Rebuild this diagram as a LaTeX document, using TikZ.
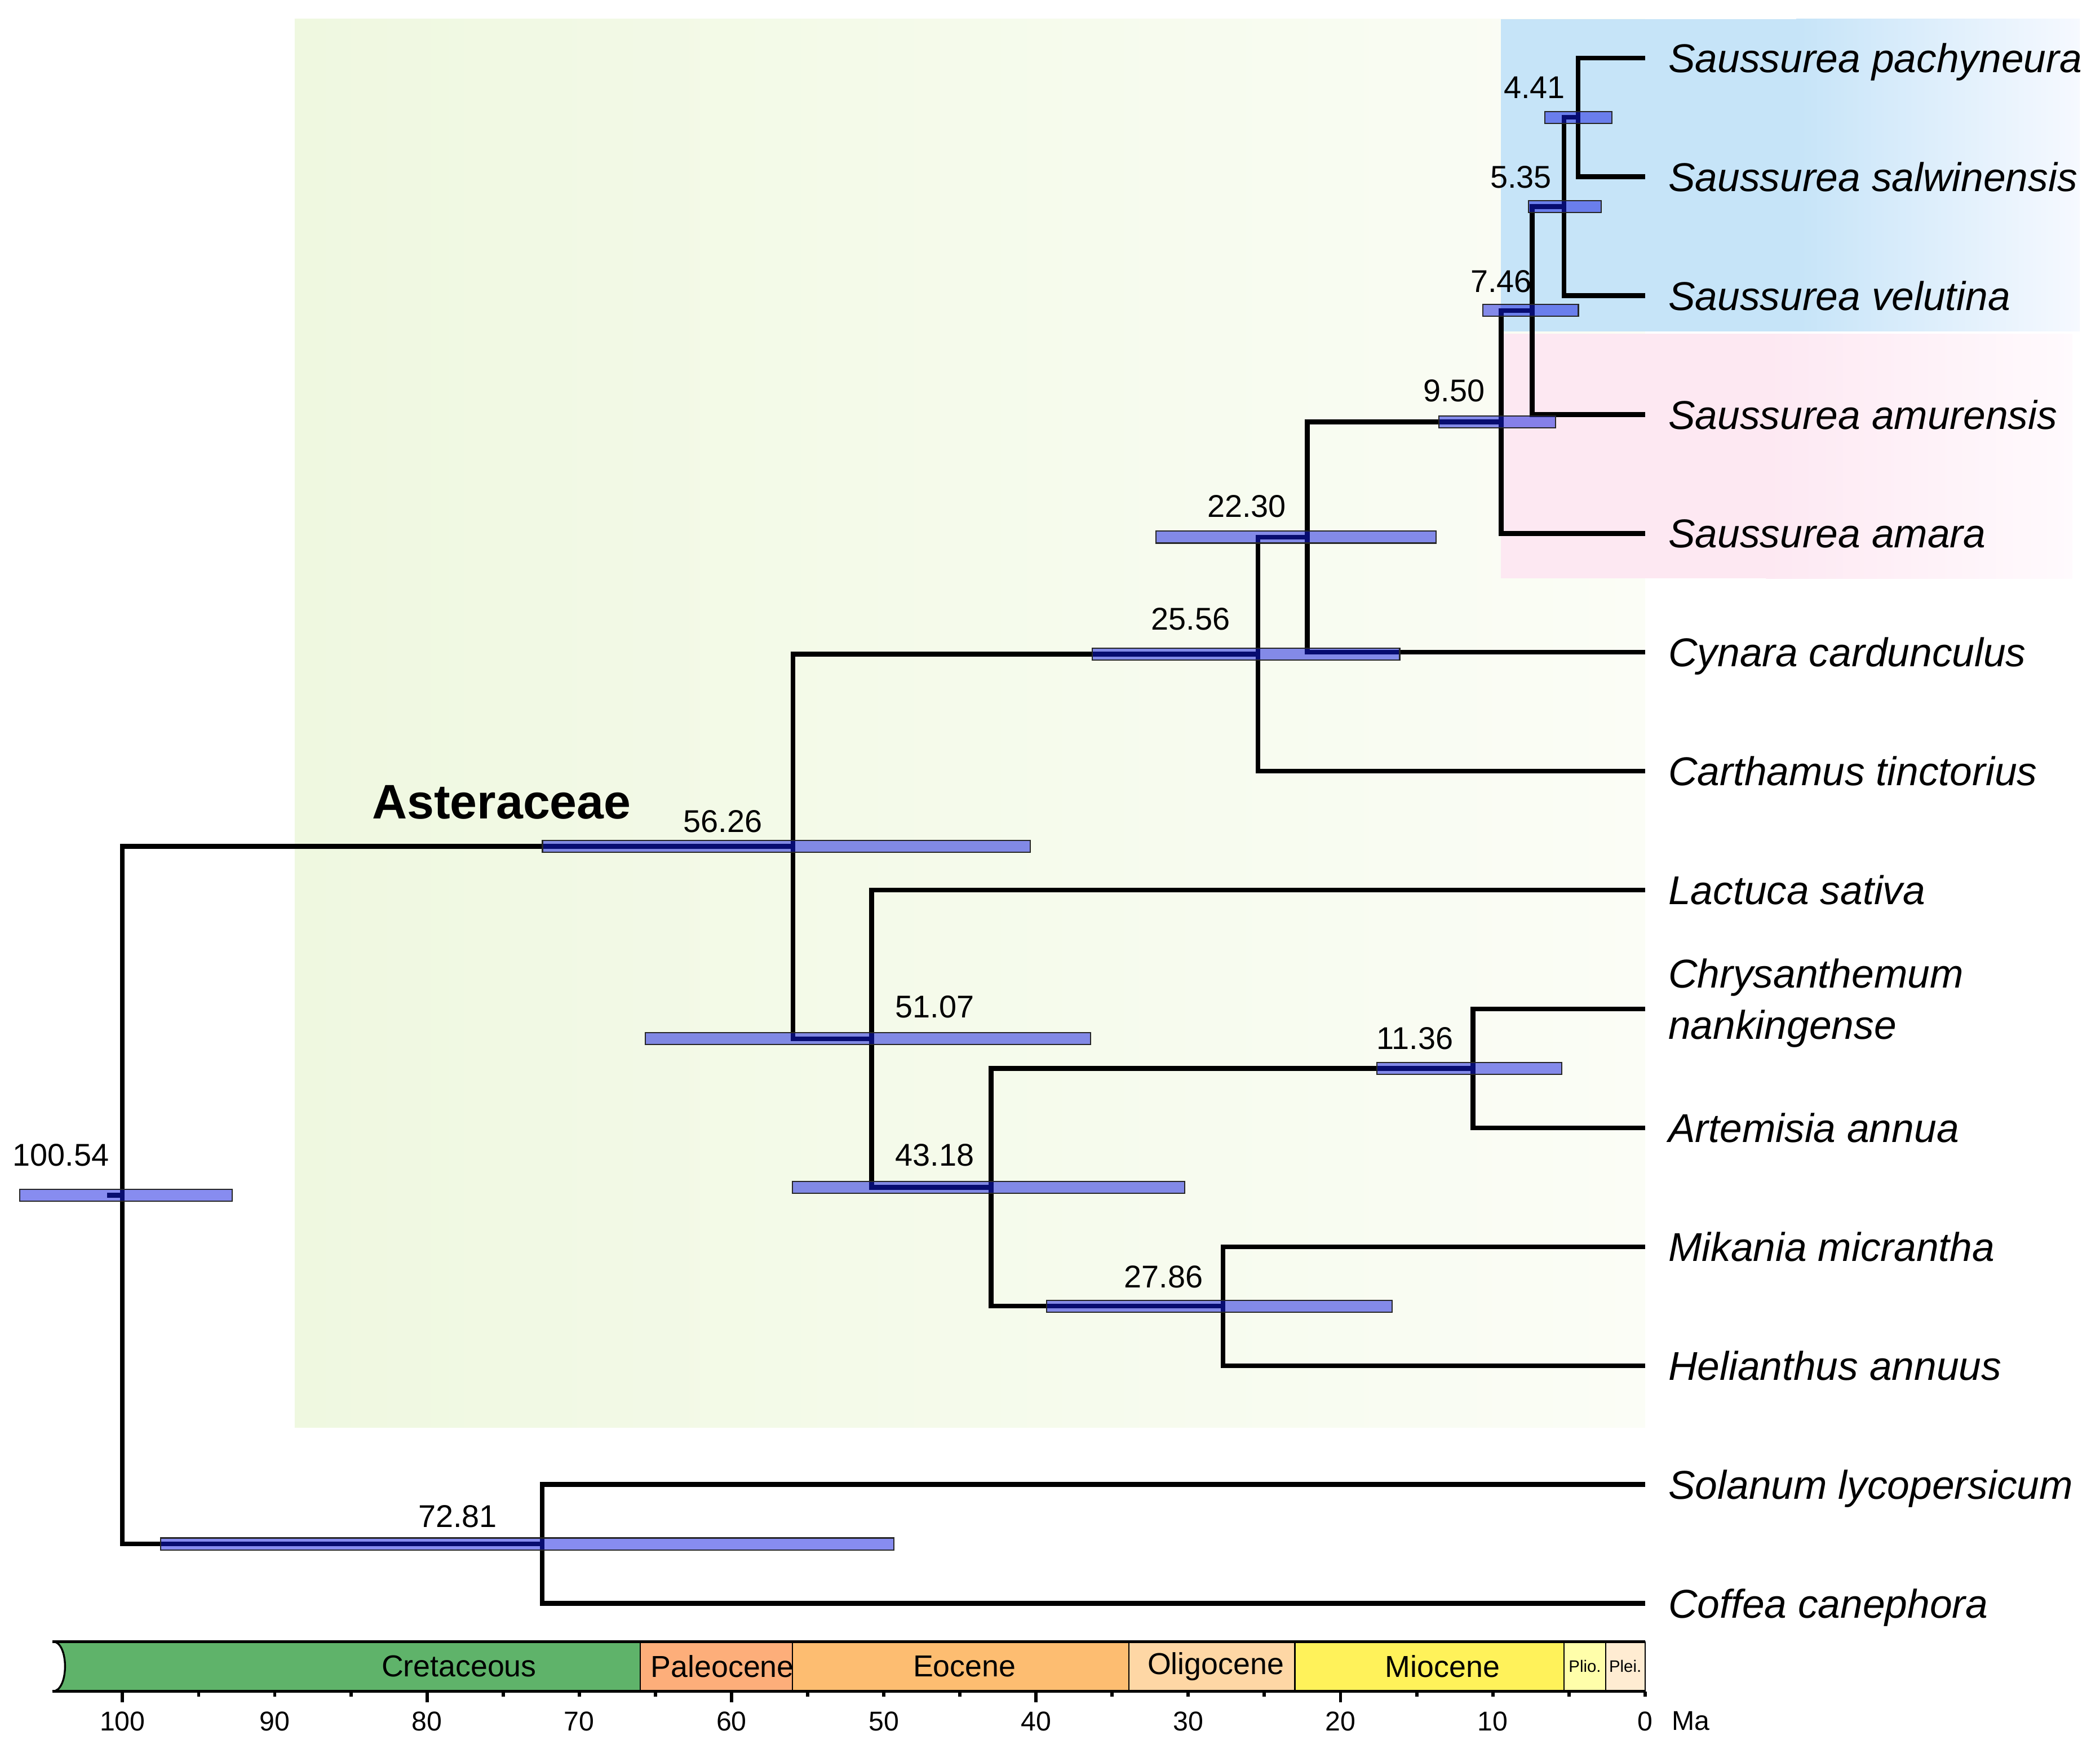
\documentclass[tikz,border=0pt]{standalone}
\usepackage{fontspec}
\setmainfont{Liberation Sans}
\usepackage{xcolor}

\definecolor{hpdblue}{RGB}{15,25,225}
\definecolor{astleft}{RGB}{239,248,224}
\definecolor{astright}{RGB}{251,253,246}
\definecolor{blueleft}{RGB}{198,228,248}
\definecolor{blueright}{RGB}{246,249,255}
\definecolor{pinkleft}{RGB}{253,232,242}
\definecolor{pinkright}{RGB}{255,250,253}
\definecolor{cretaceous}{RGB}{95,179,106}
\definecolor{paleocene}{RGB}{253,174,122}
\definecolor{eocene}{RGB}{253,189,113}
\definecolor{oligocene}{RGB}{254,215,165}
\definecolor{miocene}{RGB}{255,242,90}
\definecolor{pliocene}{RGB}{255,254,170}
\definecolor{pleistocene}{RGB}{255,236,210}

\tikzset{
	branch/.style={line width=2pt},
	hpd/.style={fill=hpdblue, fill opacity=0.5, draw=black!85, line width=0.5pt},
	age/.style={font=\fontsize{13.3}{16}\selectfont, text depth=0pt, inner sep=1pt},
	taxon/.style={anchor=west, inner xsep=0.34cm, font=\fontsize{17}{21.6}\selectfont\itshape},
	tip/.style={taxon, text height=12.2pt, text depth=0pt},
	epoch/.style={font=\fontsize{12.8}{15}\selectfont, inner sep=0pt},
	ticklabel/.style={font=\fontsize{11.5}{14}\selectfont, text depth=0pt, inner sep=0pt}
}

\begin{document}
\begin{tikzpicture}[x=0.225cm, y=-1.766cm]
	\useasboundingbox (-108.62,-0.487) rectangle (30.04,14.179);

	% clade backgrounds
	\shade[left color=astleft, right color=astright] (-89.16,-0.328) rectangle (0,11.52);
	\fill[blueleft] (-9.51,-0.328) rectangle (10,2.30);
	\shade[left color=blueleft, right color=blueright] (9.99,-0.328) rectangle (28.7,2.30);
	\fill[pinkleft] (-9.51,2.32) rectangle (8,4.38);
	\shade[left color=pinkleft, right color=pinkright] (7.99,2.32) rectangle (28.2,4.38);

	% internal nodes
	\coordinate (n441) at (-4.41,0.5);
	\coordinate (n535) at (-5.35,1.25);
	\coordinate (n746) at (-7.46,2.125);
	\coordinate (n950) at (-9.50,3.0625);
	\coordinate (n2230) at (-22.30,4.03125);
	\coordinate (n2556) at (-25.56,5.015625);
	\coordinate (n1136) at (-11.36,8.5);
	\coordinate (n2786) at (-27.86,10.5);
	\coordinate (n4318) at (-43.18,9.5);
	\coordinate (n5107) at (-51.07,8.25);
	\coordinate (n5626) at (-56.26,6.6328);
	\coordinate (n7281) at (-72.81,12.5);
	\coordinate (root) at (-100.54,9.5664);

	% tips
	\node[tip] (pach) at (0,0) {Saussurea pachyneura};
	\node[tip] (salw) at (0,1) {Saussurea salwinensis};
	\node[tip] (velu) at (0,2) {Saussurea velutina};
	\node[tip] (amur) at (0,3) {Saussurea amurensis};
	\node[tip] (amar) at (0,4) {Saussurea amara};
	\node[tip] (cyna) at (0,5) {Cynara cardunculus};
	\node[tip] (cart) at (0,6) {Carthamus tinctorius};
	\node[tip] (lact) at (0,7) {Lactuca sativa};
	\coordinate (tchry) at (0,8);
	\node[taxon, align=left, yshift=2.5pt] (chry) at (tchry) {Chrysanthemum\\nankingense};
	\node[tip] (arte) at (0,9) {Artemisia annua};
	\node[tip] (mika) at (0,10) {Mikania micrantha};
	\node[tip] (heli) at (0,11) {Helianthus annuus};
	\node[tip] (sola) at (0,12) {Solanum lycopersicum};
	\node[tip] (coff) at (0,13) {Coffea canephora};

	% branches
	\draw[branch] (pach.west) -| (n441) |- (salw.west);
	\draw[branch] (n441) -| (n535) |- (velu.west);
	\draw[branch] (n535) -| (n746) |- (amur.west);
	\draw[branch] (n746) -| (n950) |- (amar.west);
	\draw[branch] (n950) -| (n2230) |- (cyna.west);
	\draw[branch] (n2230) -| (n2556) |- (cart.west);
	\draw[branch] (n2556) -| (n5626) |- (n5107);
	\draw[branch] (lact.west) -| (n5107) |- (n4318);
	\draw[branch] (n1136) -| (n4318) |- (n2786);
	\draw[branch] (tchry) -| (n1136) |- (arte.west);
	\draw[branch] (mika.west) -| (n2786) |- (heli.west);
	\draw[branch] (sola.west) -| (n7281) |- (coff.west);
	\draw[branch] (n5626) -| (root) |- (n7281);
	\draw[branch] (root) -- ++(-1,0);

	% 95% HPD bars
	\foreach \lo/\hi/\r in {2.2/6.6/0.5, 2.9/7.7/1.25, 4.4/10.7/2.125, 5.9/13.6/3.0625,
		13.8/32.3/4.03125, 16.2/36.5/5.015625, 5.5/17.7/8.5, 16.7/39.5/10.5,
		30.4/56.3/9.5, 36.6/66.0/8.25, 40.6/72.8/6.6328, 49.6/98.0/12.5, 93.3/107.3/9.5664}
		\draw[hpd] (-\hi,\r-0.05) rectangle (-\lo,\r+0.05);

	% node ages
	\node[age] (a441) at (-7.3,0.25) {4.41};
	\node[age] (a535) at (-8.2,1.0) {5.35};
	\node[age] (a746) at (-9.5,1.88) {7.46};
	\node[age] (a950) at (-12.6,2.80) {9.50};
	\node[age] (a2230) at (-26.3,3.77) {22.30};
	\node[age] (a2556) at (-30.0,4.72) {25.56};
	\node[age] (a1136) at (-15.2,8.245) {11.36};
	\node[age] (a2786) at (-31.8,10.25) {27.86};
	\node[age] (a4318) at (-46.9,9.23) {43.18};
	\node[age] (a5107) at (-46.9,7.98) {51.07};
	\node[age] (a5626) at (-60.9,6.42) {56.26};
	\node[age] (a7281) at (-78.4,12.265) {72.81};
	\node[age] (aroot) at (-104.6,9.23) {100.54};

	\node[font=\fontsize{20.5}{24}\selectfont\bfseries] (ast) at (-75.5,6.26) {Asteraceae};

	% geological time scale
	\begin{scope}[xscale=1.0053]
		\fill[cretaceous] (-104.6,13.32) -- (-66,13.32) -- (-66,13.74) -- (-104.6,13.74) .. controls (-103.5,13.74) and (-103.5,13.32) .. cycle;
		\fill[paleocene] (-66,13.32) rectangle (-56,13.74);
		\fill[eocene] (-56,13.32) rectangle (-33.9,13.74);
		\fill[oligocene] (-33.9,13.32) rectangle (-23,13.74);
		\fill[miocene] (-23,13.32) rectangle (-5.33,13.74);
		\fill[pliocene] (-5.33,13.32) rectangle (-2.58,13.74);
		\fill[pleistocene] (-2.58,13.32) rectangle (0,13.74);
		\foreach \b in {66,56,33.9,23,5.33,2.58,0}
			\draw[line width=0.6pt] (-\b,13.32) -- (-\b,13.74);
		\draw[line width=1.2pt] (-104.6,13.32) -- (0,13.32) (-104.6,13.74) -- (0,13.74);
		\draw[line width=0.8pt] (-104.6,13.74) .. controls (-103.5,13.74) and (-103.5,13.32) .. (-104.6,13.32);
		\foreach \t in {0,5,...,100}
			\draw[line width=1.4pt] (-\t,13.74) -- (-\t,13.785);
		\foreach \t in {20,40,...,100}
			\draw[line width=1.4pt] (-\t,13.74) -- (-\t,13.83);
		\foreach \t in {0,10,...,100}
			\node[ticklabel] (tick\t) at (-\t,13.99) {\t};
		\node[ticklabel] (ma) at (3.0,13.99) {Ma};

		\node[epoch] (cre) at (-77.9,13.53) {Cretaceous};
		\node[epoch] (pal) at (-60.6,13.53) {Paleocene};
		\node[epoch] (eoc) at (-44.7,13.53) {Eocene};
		\node[epoch] (oli) at (-28.2,13.53) {Oligocene};
		\node[epoch] (mio) at (-13.3,13.53) {Miocene};
		\node[epoch, font=\fontsize{7}{8}\selectfont] (pli) at (-3.95,13.53) {Plio.};
		\node[epoch, font=\fontsize{7}{8}\selectfont] (ple) at (-1.3,13.53) {Plei.};
	\end{scope}
\end{tikzpicture}
\end{document}
